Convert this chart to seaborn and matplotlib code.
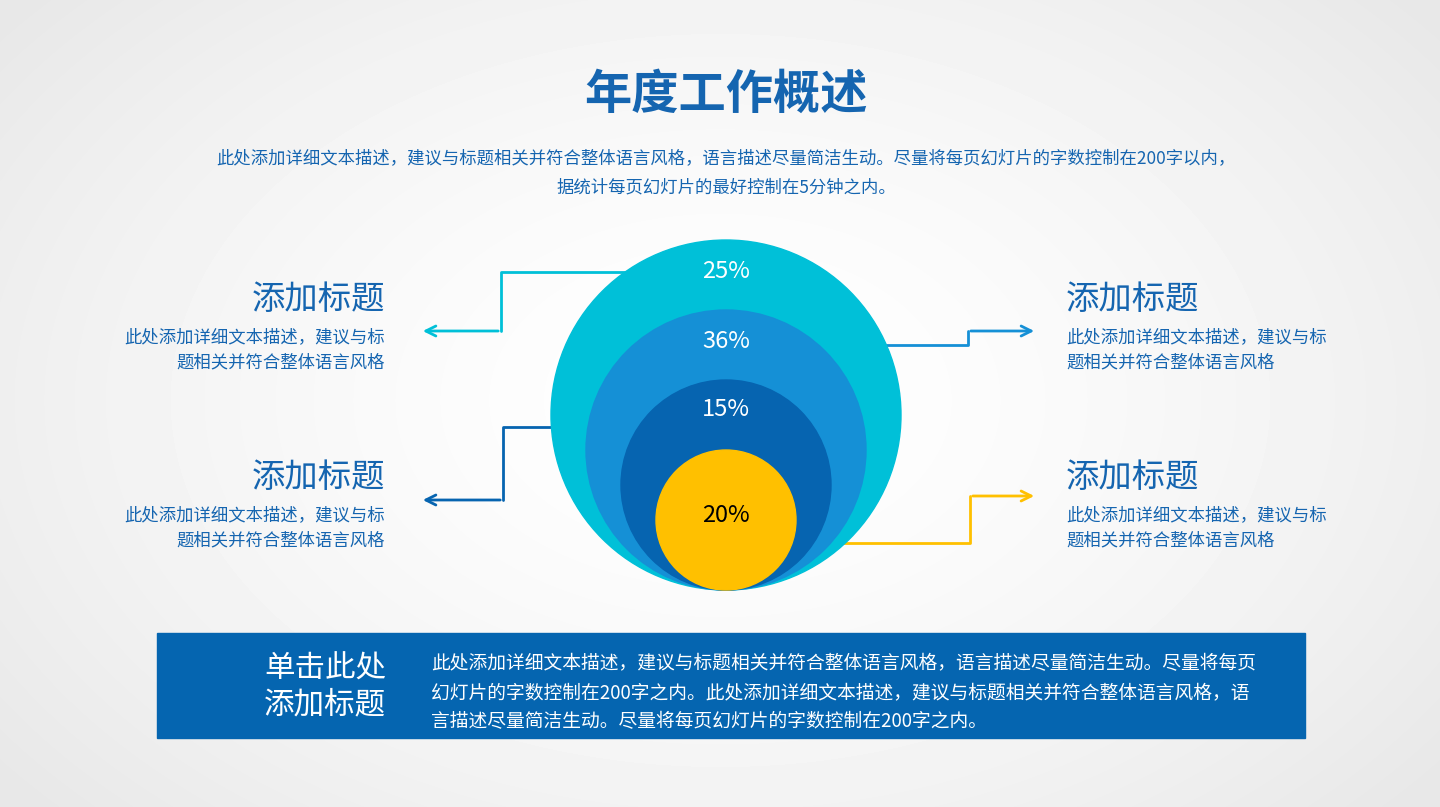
import numpy as np
import matplotlib
matplotlib.use('Agg')
import matplotlib.pyplot as plt
from matplotlib.patches import Circle, Rectangle
import seaborn as sns

sns.set_theme(style="white")
plt.rcParams['font.family'] = ['Noto Sans CJK SC', 'DejaVu Sans']

# --- DATA ---
labels = ["25%", "36%", "15%", "20%"]
values = [25, 36, 15, 20]
ring_colors = ["#00c0d8", "#1590d6", "#0664b0", "#ffc000"]
label_colors = ["white", "white", "white", "black"]
title = "年度工作概述"
subtitle = ["此处添加详细文本描述，建议与标题相关并符合整体语言风格，语言描述尽量简洁生动。尽量将每页幻灯片的字数控制在200字以内，",
            "据统计每页幻灯片的最好控制在5分钟之内。"]
side_title = "添加标题"
side_text = ["此处添加详细文本描述，建议与标", "题相关并符合整体语言风格"]
side_text_r = ["此处添加详细文本描述，建议与标", "题相关并符合整体语言风格"]
box_title = "单击此处\n添加标题"
box_text = ["此处添加详细文本描述，建议与标题相关并符合整体语言风格，语言描述尽量简洁生动。尽量将每页",
            "幻灯片的字数控制在200字之内。此处添加详细文本描述，建议与标题相关并符合整体语言风格，语",
            "言描述尽量简洁生动。尽量将每页幻灯片的字数控制在200字之内。"]

BLUE = "#1565b0"
W, H = 1440, 807
fig = plt.figure(figsize=(14.4, 8.07), dpi=100)
ax = fig.add_axes([0, 0, 1, 1])
ax.set_xlim(0, W)
ax.set_ylim(H, 0)
ax.axis('off')

# background radial gradient
yy, xx = np.mgrid[0:H, 0:W]
d = np.sqrt(((xx - 720) / 900) ** 2 + ((yy - 400) / 600) ** 2)
bg = 1.0 - 0.09 * np.clip(d, 0, 1) ** 1.5
ax.imshow(bg, cmap='gray', vmin=0, vmax=1, extent=(0, W, H, 0), zorder=0)

# nested circles, all touching bottom
bottom_y, cx = 590, 726
radii = [175, 140, 105, 70]
label_y = [271, 342, 410, 516]
for r, c, lab, lc, ly in zip(radii, ring_colors, labels, label_colors, label_y):
    ax.add_patch(Circle((cx, bottom_y - r), r, color=c, zorder=2))
    ax.text(cx, ly, lab, color=lc, fontsize=17, ha='center', va='center', zorder=3)

# connector lines with arrows
paths = [
    ([625, 501, 501, 420], [272, 272, 331, 331], ring_colors[0]),
    ([818, 968, 968, 1037], [345, 345, 331, 331], ring_colors[1]),
    ([640, 503, 503, 420], [427, 427, 500, 500], ring_colors[2]),
    ([790, 970, 970, 1037], [543, 543, 496, 496], ring_colors[3]),
]
for xs, ys, c in paths:
    ax.plot(xs[:-1], ys[:-1], color=c, lw=2, zorder=1.5)
    ax.annotate("", xy=(xs[-1], ys[-1]), xytext=(xs[-2], ys[-2]),
                arrowprops=dict(arrowstyle='->', color=c, lw=2, mutation_scale=18), zorder=1.5)

# title and subtitle
ax.text(726, 95, title, color=BLUE, fontsize=34, fontweight='bold', ha='center', va='center')
for i, s in enumerate(subtitle):
    ax.text(726, 158 + 29 * i, s, color=BLUE, fontsize=12.5, ha='center', va='center')

# side blocks
for ty in (300, 478):
    ax.text(385, ty, side_title, color=BLUE, fontsize=24, ha='right', va='center')
    for i, s in enumerate(side_text):
        ax.text(385, ty + 37 + 25 * i, s, color=BLUE, fontsize=12.5, ha='right', va='center')
    ax.text(1066, ty, side_title, color=BLUE, fontsize=24, ha='left', va='center')
    for i, s in enumerate(side_text_r):
        ax.text(1066, ty + 37 + 25 * i, s, color=BLUE, fontsize=12.5, ha='left', va='center')

# bottom box
ax.add_patch(Rectangle((157, 633), 1148, 105, color="#0565b0", zorder=1))
ax.text(386, 687, box_title, color='white', fontsize=22, ha='right', va='center',
        linespacing=1.2, zorder=2)
for i, s in enumerate(box_text):
    ax.text(431, 664 + 29 * i, s, color='white', fontsize=13.5, ha='left', va='center', zorder=2)

fig.savefig("out.png", dpi=100)
